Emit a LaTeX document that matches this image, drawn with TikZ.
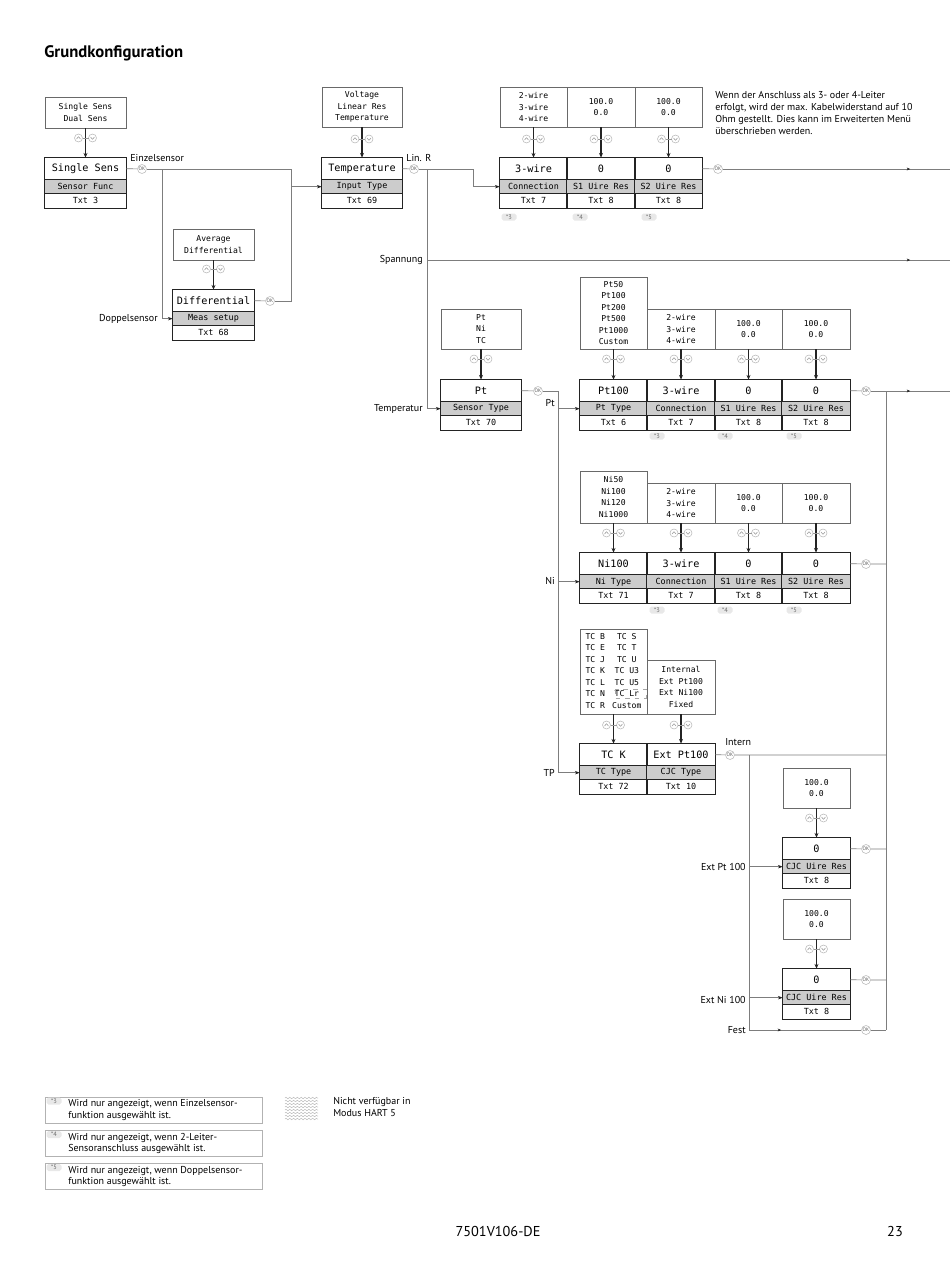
\documentclass[tikz,border=0pt]{standalone}
\usepackage{fontspec}
\setmainfont{PT Sans}
\newfontfamily\lcdfont{DejaVu Sans Mono}
\usetikzlibrary{positioning}
\usetikzlibrary{calc}
\usetikzlibrary{arrows.meta}
\usetikzlibrary{decorations.markings}
\usetikzlibrary{decorations.pathmorphing}
\definecolor{subgrey}{RGB}{204,204,204}
\definecolor{linegrey}{RGB}{125,125,125}
\definecolor{framegrey}{RGB}{105,105,105}
\definecolor{darkline}{RGB}{35,35,35}
\def\unitpx{0.2211mm}

\tikzset{
  optframe/.style={draw=framegrey, line width=0.45pt, inner sep=0pt, align=center,
    font=\lcdfont\fontsize{5.1}{7.2}\selectfont},
  lcdshape/.style={rectangle, inner sep=0pt, minimum height=50*\unitpx},
  valtext/.style={inner sep=0pt, font=\lcdfont\fontsize{6.4}{7}\selectfont},
  subtext/.style={inner sep=0pt, font=\lcdfont\fontsize{5.3}{6}\selectfont},
  link/.style={draw=linegrey, line width=0.4pt},
  toarrow/.style={-{Stealth[length=3pt, width=2.2pt, color=darkline]}},
  mainarr/.style={draw=darkline, line width=0.65pt, -{Stealth[length=3pt, width=2.5pt]}},
  midtip/.style={postaction={decorate}, decoration={markings,
    mark=at position -8.8mm with {\arrow{Stealth[length=2.2pt, width=1.8pt, color=darkline]}}}},
  festtip/.style={postaction={decorate}, decoration={markings,
    mark=at position 7.1mm with {\arrow{Stealth[length=2.2pt, width=1.8pt, color=darkline]}}}},
  okcircle/.style={circle, draw=gray!55, line width=0.35pt, fill=white, inner sep=0pt,
    minimum size=9*\unitpx, text=black!65, font=\fontsize{3.2}{3.5}\selectfont},
  keycircle/.style={circle, draw=gray!55, line width=0.35pt, inner sep=0pt, minimum size=8*\unitpx},
  keymark/.style={draw=gray!80, line width=0.35pt},
  tagpill/.style={rounded corners=1.2pt, fill=gray!18, inner sep=0pt, minimum width=15*\unitpx,
    minimum height=7*\unitpx, text=black!60, font=\fontsize{4}{4.5}\selectfont},
  lbl/.style={inner sep=0pt, font=\fontsize{6.3}{6.9}\selectfont},
  note/.style={inner sep=0pt, align=left, font=\fontsize{6.3}{7.5}\selectfont},
  fnbox/.style={draw=gray!60, line width=0.45pt, minimum width=217*\unitpx, minimum height=26*\unitpx},
  hatch/.style={draw=gray!55, line width=0.3pt, decorate,
    decoration={zigzag, segment length=2.4pt, amplitude=0.5pt}}
}

% option list box: name, x, y, width, height, entries
\newcommand{\optionbox}[6]{%
  \node[optframe, minimum width=#4*\unitpx, minimum height=#5*\unitpx] (#1) at (#2,#3) {#6};}

% display box: name, x, top, width, value, menu text, help text
\newcommand{\lcdbox}[7]{%
  \node[lcdshape, minimum width=#4*\unitpx] (#1) at (#2,#3+25) {};
  \fill[subgrey] ([yshift=-22*\unitpx]#1.north west) rectangle ([yshift=-36*\unitpx]#1.north east);
  \draw[darkline, line width=0.5pt] ([yshift=-22*\unitpx]#1.north west) -- ([yshift=-22*\unitpx]#1.north east)
    ([yshift=-36*\unitpx]#1.north west) -- ([yshift=-36*\unitpx]#1.north east);
  \node[valtext] at ([yshift=-11*\unitpx]#1.north) {#5};
  \node[subtext] at ([yshift=-29*\unitpx]#1.north) {#6};
  \node[subtext] at ([yshift=-43*\unitpx]#1.north) {#7};
  \draw[darkline, line width=0.85pt] (#1.north west) rectangle (#1.south east);
  \coordinate (#1-in) at ([yshift=-29*\unitpx]#1.north west);
  \coordinate (#1-out) at ([yshift=-11*\unitpx]#1.north east);}

% up/down keys on an arrow
\newcommand{\updown}[2]{%
  \node[keycircle] at (#1-7,#2) {};
  \node[keycircle] at (#1+7,#2) {};
  \draw[keymark] (#1-9,#2+1) -- (#1-7,#2-1.3) -- (#1-5,#2+1);
  \draw[keymark] (#1+5,#2-1) -- (#1+7,#2+1.3) -- (#1+9,#2-1);
  \draw[keymark] (#1-3,#2) -- (#1+3,#2);}

\begin{document}
\begin{tikzpicture}[x=0.2211mm, y=-0.2211mm]
    \useasboundingbox (0,0) rectangle (950,1267);

    \node[anchor=west, inner sep=0pt, font=\bfseries\fontsize{10.5}{12}\selectfont] (title) at (44,53) {Grundkonfiguration};

    % sensor function
    \optionbox{optSens}{85.5}{112.5}{81}{31}{Single Sens\\Dual Sens}
    \lcdbox{sens}{85.5}{158}{81}{Single Sens}{Sensor Func}{Txt 3}
    \optionbox{optMeas}{213.5}{244.5}{81}{31}{Average\\Differential}
    \lcdbox{meas}{213.5}{290}{81}{Differential}{Meas setup}{Txt 68}

    % input type
    \optionbox{optInput}{362}{107}{80}{40}{Voltage\\Linear Res\\Temperature}
    \lcdbox{input}{362}{158}{80}{Temperature}{Input Type}{Txt 69}

    % linear resistance
    \optionbox{optLinConn}{533.5}{107}{67}{40}{2-wire\\3-wire\\4-wire}
    \optionbox{optLinSa}{601}{107}{68}{40}{100.0\\0.0}
    \optionbox{optLinSb}{668.5}{107}{67}{40}{100.0\\0.0}
    \lcdbox{linConn}{533.5}{158}{67}{3-wire}{Connection}{Txt 7}
    \lcdbox{linSa}{601}{158}{68}{0}{S1 Uire Res}{Txt 8}
    \lcdbox{linSb}{668.5}{158}{67}{0}{S2 Uire Res}{Txt 8}

    % sensor type
    \optionbox{optType}{481}{329}{80}{40}{Pt\\Ni\\TC}
    \lcdbox{type}{481}{380}{80}{Pt}{Sensor Type}{Txt 70}

    % Pt
    \optionbox{optPtType}{613.5}{313}{67}{72}{Pt50\\Pt100\\Pt200\\Pt500\\Pt1000\\Custom}
    \optionbox{optPtConn}{681}{329}{68}{40}{2-wire\\3-wire\\4-wire}
    \optionbox{optPtSa}{748.5}{329}{67}{40}{100.0\\0.0}
    \optionbox{optPtSb}{816}{329}{68}{40}{100.0\\0.0}
    \lcdbox{ptType}{613.5}{380}{67}{Pt100}{Pt Type}{Txt 6}
    \lcdbox{ptConn}{681}{380}{68}{3-wire}{Connection}{Txt 7}
    \lcdbox{ptSa}{748.5}{380}{67}{0}{S1 Uire Res}{Txt 8}
    \lcdbox{ptSb}{816}{380}{68}{0}{S2 Uire Res}{Txt 8}

    % Ni
    \optionbox{optNiType}{613.5}{497}{67}{52}{Ni50\\Ni100\\Ni120\\Ni1000}
    \optionbox{optNiConn}{681}{503}{68}{40}{2-wire\\3-wire\\4-wire}
    \optionbox{optNiSa}{748.5}{503}{67}{40}{100.0\\0.0}
    \optionbox{optNiSb}{816}{503}{68}{40}{100.0\\0.0}
    \lcdbox{niType}{613.5}{553}{67}{Ni100}{Ni Type}{Txt 71}
    \lcdbox{niConn}{681}{553}{68}{3-wire}{Connection}{Txt 7}
    \lcdbox{niSa}{748.5}{553}{67}{0}{S1 Uire Res}{Txt 8}
    \lcdbox{niSb}{816}{553}{68}{0}{S2 Uire Res}{Txt 8}

    % TC
    \optionbox{optTcType}{613.5}{671.5}{67}{85}{\begin{tabular}{@{}l@{\hspace{4.5pt}}c@{}}
      TC B & TC S\\ TC E & TC T\\ TC J & TC U\\ TC K & TC U3\\
      TC L & TC U5\\ TC N & TC Lr\\ TC R & Custom\end{tabular}}
    \draw[dashed, gray!70, line width=0.3pt] (615,689) rectangle (646,698);
    \optionbox{optTcCjc}{681}{687}{68}{54}{Internal\\Ext Pt100\\Ext Ni100\\Fixed}
    \lcdbox{tcType}{613.5}{744}{67}{TC K}{TC Type}{Txt 72}
    \lcdbox{tcCjc}{681}{744}{68}{Ext Pt100}{CJC Type}{Txt 10}

    % CJC wire resistance
    \optionbox{optCjcA}{816.5}{788}{67}{40}{100.0\\0.0}
    \lcdbox{cjcA}{816.5}{838}{67}{0}{CJC Uire Res}{Txt 8}
    \optionbox{optCjcB}{816.5}{919}{67}{40}{100.0\\0.0}
    \lcdbox{cjcB}{816.5}{969}{67}{0}{CJC Uire Res}{Txt 8}

    % selection arrows
    \foreach \a/\b in {optSens/sens, optMeas/meas, optInput/input, optLinConn/linConn,
        optLinSa/linSa, optLinSb/linSb, optType/type, optPtType/ptType, optPtConn/ptConn,
        optPtSa/ptSa, optPtSb/ptSb, optNiType/niType, optNiConn/niConn, optNiSa/niSa,
        optNiSb/niSb, optTcType/tcType, optTcCjc/tcCjc, optCjcA/cjcA, optCjcB/cjcB}
      {\draw[mainarr] (\a.south -| \b.north) -- (\b.north);}
    \foreach \x/\y in {85.5/138, 213.5/269, 362/139, 533.5/139, 601/139, 668.5/139,
        481/359, 613.5/359, 681/359, 748.5/359, 816/359, 613.5/533, 681/533, 748.5/533,
        816/533, 613.5/725, 681/725, 816.5/818, 816.5/949}
      {\updown{\x}{\y}}

    % footnote marks
    \foreach \x/\y/\m in {509/217/3, 580/217/4, 649/217/5, 657/436/3, 725/436/4, 794/436/5,
        657/610/3, 725/610/4, 794/610/5}
      {\node[tagpill] at (\x,\y) {*\m};}

    % OK keys
    \node[okcircle] (okSens) at (142,169) {OK};
    \node[okcircle] (okMeas) at (270,301) {OK};
    \node[okcircle] (okInput) at (414,169) {OK};
    \node[okcircle] (okLin) at (718,169) {OK};
    \node[okcircle] (okType) at (538,391) {OK};
    \node[okcircle] (okPt) at (866,391) {OK};
    \node[okcircle] (okNi) at (866,564) {OK};
    \node[okcircle] (okTc) at (730,755) {OK};
    \node[okcircle] (okCa) at (866,849) {OK};
    \node[okcircle] (okCb) at (866,980) {OK};
    \node[okcircle] (okFest) at (866,1030) {OK};

    % junctions
    \coordinate (jSens) at (291,169);
    \coordinate (jDop) at (162,169);
    \coordinate (jInput) at (427,169);
    \coordinate (jLinR) at (473,169);
    \coordinate (jSpan) at (427,260);
    \coordinate (eSpan) at (950,260);
    \coordinate (eLin) at (950,169);
    \coordinate (jType) at (558,391);
    \coordinate (ePt) at (950,391);
    \coordinate (jRight) at (886,391);
    \coordinate (jTc) at (749,755);

    % connections
    \draw[link] (sens-out) -- (okSens);
    \draw[link] (okSens) -- (jSens) |- (okMeas);
    \draw[link] (meas-out) -- (okMeas);
    \draw[link, toarrow] (jSens |- input-in) -- (input-in);
    \draw[link, toarrow] (jDop) |- (meas-in);
    \draw[link] (input-out) -- (okInput);
    \draw[link, toarrow] (okInput) -- (jLinR) |- (linConn-in);
    \draw[link, toarrow] (jInput) |- (type-in);
    \draw[link, midtip] (jSpan) -- (eSpan);
    \draw[link] (linSb-out) -- (okLin);
    \draw[link, midtip] (okLin) -- (eLin);
    \draw[link] (type-out) -- (okType);
    \draw[link, toarrow] (okType) -- (jType) |- (tcType-in);
    \draw[link, toarrow] (jType |- ptType-in) -- (ptType-in);
    \draw[link, toarrow] (jType |- niType-in) -- (niType-in);
    \draw[link] (ptSb-out) -- (okPt);
    \draw[link, midtip] (okPt) -- (ePt);
    \draw[link] (jRight) -- (jRight |- okFest);
    \draw[link] (niSb-out) -- (okNi) -- (okNi -| jRight);
    \draw[link] (tcCjc-out) -- (okTc) -- (okTc -| jRight);
    \draw[link] (jTc) -- (jTc |- okFest);
    \draw[link, toarrow] (jTc |- cjcA-in) -- (cjcA-in);
    \draw[link, toarrow] (jTc |- cjcB-in) -- (cjcB-in);
    \draw[link, festtip] (jTc |- okFest) -- (okFest);
    \draw[link] (okFest) -- (okFest -| jRight);
    \draw[link] (cjcA-out) -- (okCa) -- (okCa -| jRight);
    \draw[link] (cjcB-out) -- (okCb) -- (okCb -| jRight);

    % branch labels
    \node[lbl, anchor=west] (lEinzel) at (130,158) {Einzelsensor};
    \node[lbl, anchor=east] (lDoppel) at (158,319) {Doppelsensor};
    \node[lbl, anchor=west] (lLinR) at (406,158) {Lin. R};
    \node[lbl, anchor=east] (lSpan) at (423,260) {Spannung};
    \node[lbl, anchor=east] (lTemp) at (423,409) {Temperatur};
    \node[lbl, anchor=east] (lPt) at (555,403) {Pt};
    \node[lbl, anchor=east] (lNi) at (555,581) {Ni};
    \node[lbl, anchor=east] (lTp) at (555,773) {TP};
    \node[lbl, anchor=west] (lIntern) at (725,742) {Intern};
    \node[lbl, anchor=east] (lExtPt) at (746,867) {Ext Pt 100};
    \node[lbl, anchor=east] (lExtNi) at (746,1000) {Ext Ni 100};
    \node[lbl, anchor=east] (lFest) at (746,1030) {Fest};

    \node[note, anchor=north west] (hint) at (715,91) {Wenn der Anschluss als 3- oder 4-Leiter\\
      erfolgt, wird der max. Kabelwiderstand auf 10\\Ohm gestellt. Dies kann im Erweiterten Menü\\
      überschrieben werden.};

    % footnotes
    \node[fnbox] (fn3) at (153.5,1110) {};
    \node[fnbox] (fn4) at (153.5,1143.5) {};
    \node[fnbox] (fn5) at (153.5,1176.5) {};
    \node[tagpill] at (54,1101) {*3};
    \node[tagpill] at (54,1134.5) {*4};
    \node[tagpill] at (54,1167.5) {*5};
    \node[note, anchor=west] at (68,1110) {Wird nur angezeigt, wenn Einzelsensor-\\funktion ausgewählt ist.};
    \node[note, anchor=west] at (68,1143.5) {Wird nur angezeigt, wenn 2-Leiter-\\Sensoranschluss ausgewählt ist.};
    \node[note, anchor=west] at (68,1176.5) {Wird nur angezeigt, wenn Doppelsensor-\\funktion ausgewählt ist.};

    \foreach \r in {0,...,7}
      {\draw[hatch] (285,1098+3*\r) -- (318,1098+3*\r);}
    \node[note, anchor=west] (hart) at (333,1107) {Nicht verfügbar in\\Modus HART 5};

    \node[inner sep=0pt, font=\fontsize{9}{10}\selectfont] (doc) at (498,1231) {7501V106-DE};
    \node[inner sep=0pt, font=\fontsize{9}{10}\selectfont] (page) at (895,1231) {23};
\end{tikzpicture}
\end{document}
